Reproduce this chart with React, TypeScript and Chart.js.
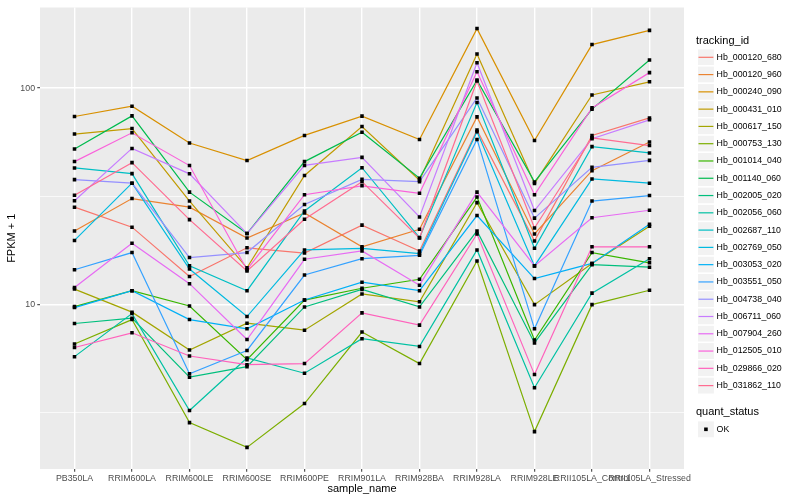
import React, { useEffect, useRef } from 'react';
import { Chart, registerables } from 'chart.js';

Chart.register(...registerables);

const sampleNames = [
  'PB350LA', 'RRIM600LA', 'RRIM600LE', 'RRIM600SE', 'RRIM600PE', 'RRIM901LA',
  'RRIM928BA', 'RRIM928LA', 'RRIM928LE', 'RRII105LA_Control', 'RRII105LA_Stressed',
];

const trackingIds = [
  'Hb_000120_680', 'Hb_000120_960', 'Hb_000240_090', 'Hb_000431_010', 'Hb_000617_150',
  'Hb_000753_130', 'Hb_001014_040', 'Hb_001140_060', 'Hb_002005_020', 'Hb_002056_060',
  'Hb_002687_110', 'Hb_002769_050', 'Hb_003053_020', 'Hb_003551_050', 'Hb_004738_040',
  'Hb_006711_060', 'Hb_007904_260', 'Hb_012505_010', 'Hb_029866_020', 'Hb_031862_110',
];

// FPKM + 1 per sample (order of sampleNames)
const hb_000120_680 = [28.2, 22.8, 13.5, 18.3, 17.3, 23.3, 17.7, 64.0, 19.7, 60.5, 72.9];
const hb_000120_960 = [21.9, 30.9, 28.2, 20.3, 26.5, 18.5, 22.3, 73.7, 21.2, 41.6, 56.4];
const hb_000240_090 = [74.0, 82.6, 55.8, 46.3, 60.5, 74.3, 57.9, 188.5, 57.3, 159, 185];
const hb_000431_010 = [61.4, 65.1, 30.1, 14.8, 39.5, 66.5, 37.6, 144, 36.3, 93.1, 107];
const hb_000617_150 = [11.8, 9.23, 6.17, 8.21, 7.62, 11.2, 10.3, 29.6, 10.0, 15.5, 23.0];
const hb_000753_130 = [6.58, 8.53, 2.85, 2.19, 3.49, 7.47, 5.34, 15.9, 2.59, 10.0, 11.65];
const hb_001014_040 = [9.79, 11.6, 9.86, 5.57, 10.5, 11.9, 13.1, 31.4, 6.86, 17.4, 15.6];
const hb_001140_060 = [52.4, 74.5, 33.1, 21.3, 45.8, 62.6, 38.4, 109, 36.9, 80.0, 135];
const hb_002005_020 = [8.18, 8.66, 4.62, 5.17, 9.76, 11.75, 9.76, 21.9, 6.65, 15.3, 14.9];
const hb_002056_060 = [5.75, 9.09, 3.24, 5.67, 4.82, 6.96, 6.41, 17.9, 4.13, 11.3, 16.3];
const hb_002687_110 = [42.8, 40.3, 15.1, 11.6, 27.1, 42.9, 20.4, 85.8, 18.2, 53.7, 50.2];
const hb_002769_050 = [19.8, 36.4, 14.6, 8.81, 17.9, 18.2, 17.2, 62.9, 15.1, 38.1, 36.4];
const hb_003053_020 = [9.69, 11.6, 8.53, 7.73, 10.5, 12.7, 11.6, 25.8, 13.2, 15.5, 23.5];
const hb_003551_050 = [14.5, 17.4, 4.79, 6.14, 13.7, 16.3, 16.9, 58.0, 7.73, 30.1, 31.9];
const hb_004738_040 = [37.8, 36.4, 16.5, 17.4, 29.0, 37.9, 37.0, 90.1, 25.1, 43.1, 46.4];
const hb_006711_060 = [30.2, 52.7, 40.2, 21.3, 44.0, 47.9, 25.4, 131, 27.2, 58.4, 71.4];
const hb_007904_260 = [12.0, 19.2, 12.5, 6.90, 16.2, 17.7, 12.3, 33.1, 15.1, 25.2, 27.3];
const hb_012505_010 = [45.8, 62.2, 43.9, 14.5, 32.2, 35.4, 32.7, 119, 32.2, 81.1, 118];
const hb_029866_020 = [6.34, 7.41, 5.79, 5.28, 5.34, 9.16, 8.04, 21.2, 4.75, 18.5, 18.5];
const hb_031862_110 = [32.0, 45.3, 24.7, 14.3, 24.8, 37.0, 20.3, 108, 22.6, 59.0, 54.3];

const seriesValues = [
  hb_000120_680, hb_000120_960, hb_000240_090, hb_000431_010, hb_000617_150,
  hb_000753_130, hb_001014_040, hb_001140_060, hb_002005_020, hb_002056_060,
  hb_002687_110, hb_002769_050, hb_003053_020, hb_003551_050, hb_004738_040,
  hb_006711_060, hb_007904_260, hb_012505_010, hb_029866_020, hb_031862_110,
];

const yMajorTicks = [10, 100];
const yMinorTicks = [3.1623, 31.623];
const quantStatus = ['OK'];

const palette = [
  '#F8766D', '#EA8331', '#D89000', '#C09B00', '#A3A500', '#7CAE00', '#39B600',
  '#00BB4E', '#00BF7D', '#00C1A3', '#00BFC4', '#00BAE0', '#00B0F6', '#35A2FF',
  '#9590FF', '#C77CFF', '#E76BF3', '#FA62DB', '#FF62BC', '#FF6C91',
];

const FONT = '"Liberation Sans", Arial, Helvetica, sans-serif';

export default function App() {
  const ref = useRef<HTMLCanvasElement>(null);

  useEffect(() => {
    const canvas = ref.current;
    if (!canvas) return;

    const bgPlugin = {
      id: 'panelBg',
      beforeDraw(chart: any) {
        const { ctx, chartArea: a } = chart;
        ctx.save();
        ctx.fillStyle = '#FFFFFF';
        ctx.fillRect(0, 0, chart.width, chart.height);
        ctx.fillStyle = '#EBEBEB';
        ctx.fillRect(a.left, a.top, a.right - a.left, a.bottom - a.top);
        ctx.restore();
      },
    };

    const legendPlugin = {
      id: 'ggLegend',
      afterDraw(chart: any) {
        const ctx = chart.ctx;
        const keyX = 697.3;
        const keySize = 17.28;
        const firstCy = 57.3;
        ctx.save();
        ctx.textAlign = 'left';
        ctx.textBaseline = 'middle';
        ctx.fillStyle = '#000000';
        ctx.font = `11px ${FONT}`;
        ctx.fillText('tracking_id', 696, 40.7);
        trackingIds.forEach((id, k) => {
          const cy = firstCy + k * keySize;
          ctx.fillStyle = '#F2F2F2';
          ctx.fillRect(keyX, cy - keySize / 2, keySize, keySize);
          ctx.strokeStyle = '#FFFFFF';
          ctx.lineWidth = 1.4;
          ctx.strokeRect(keyX, cy - keySize / 2, keySize, keySize);
          ctx.strokeStyle = palette[k];
          ctx.lineWidth = 1.2;
          ctx.beginPath();
          ctx.moveTo(keyX + 1.2, cy);
          ctx.lineTo(keyX + keySize - 1.2, cy);
          ctx.stroke();
          ctx.fillStyle = '#000000';
          ctx.font = `8.8px ${FONT}`;
          ctx.fillText(id, 716.6, cy);
        });
        ctx.font = `11px ${FONT}`;
        ctx.fillStyle = '#000000';
        ctx.fillText('quant_status', 696, 412.3);
        const okCy = 429.3;
        ctx.fillStyle = '#F2F2F2';
        ctx.fillRect(keyX, okCy - keySize / 2, keySize, keySize);
        ctx.strokeStyle = '#FFFFFF';
        ctx.lineWidth = 1.4;
        ctx.strokeRect(keyX, okCy - keySize / 2, keySize, keySize);
        ctx.fillStyle = '#000000';
        ctx.fillRect(keyX + keySize / 2 - 1.8, okCy - 1.8, 3.6, 3.6);
        ctx.font = `8.8px ${FONT}`;
        ctx.fillText(quantStatus[0], 716.6, okCy);
        ctx.restore();
      },
    };

    const lineSets = seriesValues.map((vals, k) => ({
      type: 'line' as const,
      label: trackingIds[k],
      data: vals.map((v, i) => ({ x: i, y: v })),
      borderColor: palette[k],
      backgroundColor: palette[k],
      borderWidth: 1.2,
      pointRadius: 0,
      pointHoverRadius: 0,
      fill: false,
      tension: 0,
      order: 100 - k,
    }));

    const pointSets = seriesValues.map((vals, k) => ({
      type: 'line' as const,
      label: `${trackingIds[k]} ${quantStatus[0]}`,
      data: vals.map((v, i) => ({ x: i, y: v })),
      showLine: false,
      pointStyle: 'rect' as const,
      pointRadius: 2.5,
      pointHoverRadius: 2.5,
      pointBackgroundColor: '#000000',
      pointBorderColor: '#000000',
      pointBorderWidth: 0,
      borderColor: '#000000',
      order: 0,
    }));

    const isMajor = (v: number) => yMajorTicks.includes(v);

    const chart = new Chart(canvas, {
      type: 'line',
      data: { datasets: [...lineSets, ...pointSets] as any },
      options: {
        responsive: false,
        animation: false,
        events: [],
        layout: { padding: { top: 5, right: 116, bottom: 0, left: 0 } },
        plugins: { legend: { display: false }, tooltip: { enabled: false } },
        scales: {
          x: {
            type: 'linear',
            min: -0.6,
            max: 10.6,
            afterBuildTicks: (s: any) => {
              s.ticks = sampleNames.map((_, i) => ({ value: i }));
            },
            afterFit: (s: any) => {
              s.height = 31;
            },
            ticks: {
              autoSkip: false,
              maxRotation: 0,
              minRotation: 0,
              padding: 1.5,
              color: '#4D4D4D',
              font: { family: FONT, size: 8.8 },
              callback: (v: any) => sampleNames[v as number] ?? '',
            },
            grid: {
              color: '#FFFFFF',
              lineWidth: 1.4,
              tickLength: 2.75,
              tickColor: '#333333',
              tickWidth: 1,
            },
            border: { display: false },
            title: {
              display: true,
              text: 'sample_name',
              color: '#000000',
              font: { family: FONT, size: 11 },
              padding: { top: 0, bottom: 4 },
            },
          },
          y: {
            type: 'logarithmic',
            min: 1.74,
            max: 236,
            afterBuildTicks: (s: any) => {
              s.ticks = [...yMinorTicks, ...yMajorTicks]
                .sort((a, b) => a - b)
                .map((v) => ({ value: v, major: isMajor(v) }));
            },
            afterFit: (s: any) => {
              s.width = 40;
            },
            ticks: {
              autoSkip: false,
              padding: 2.2,
              color: '#4D4D4D',
              font: { family: FONT, size: 8.8 },
              callback: (v: any) => (isMajor(v as number) ? String(v) : ''),
            },
            grid: {
              color: '#FFFFFF',
              lineWidth: (ctx: any) => (ctx.tick && isMajor(ctx.tick.value) ? 1.4 : 0.7),
              tickLength: 2.75,
              tickColor: (ctx: any) =>
                ctx.tick && isMajor(ctx.tick.value) ? '#333333' : 'rgba(0,0,0,0)',
              tickWidth: 1,
            },
            border: { display: false },
            title: {
              display: true,
              text: 'FPKM + 1',
              color: '#000000',
              font: { family: FONT, size: 11 },
              padding: { top: 5.4, bottom: 0 },
            },
          },
        },
      } as any,
      plugins: [bgPlugin, legendPlugin],
    });

    return () => chart.destroy();
  }, []);

  return (
    <div style={{ position: 'fixed', left: 0, top: 0, width: 800, height: 500, background: '#FFFFFF' }}>
      <canvas ref={ref} width={800} height={500} style={{ width: 800, height: 500, display: 'block' }} />
    </div>
  );
}
